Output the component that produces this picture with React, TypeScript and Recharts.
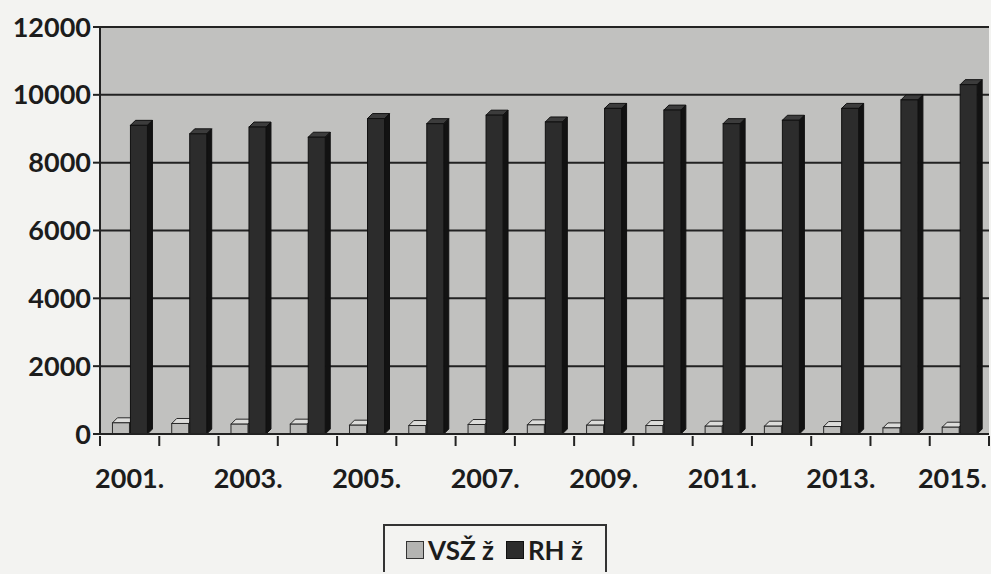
import { BarChart, Bar, XAxis, YAxis, CartesianGrid, Legend } from 'recharts';

const years = ['2001.', '2002.', '2003.', '2004.', '2005.', '2006.', '2007.', '2008.', '2009.', '2010.', '2011.', '2012.', '2013.', '2014.', '2015.'];
const vszValues = [330, 310, 290, 290, 260, 250, 280, 270, 260, 250, 230, 230, 220, 180, 200];
const rhValues = [9100, 8850, 9050, 8750, 9300, 9150, 9400, 9200, 9600, 9550, 9150, 9250, 9600, 9850, 10300];
const yTicks = [0, 2000, 4000, 6000, 8000, 10000, 12000];

const data = years.map((year, i) => ({ year, vsz: vszValues[i], rh: rhValues[i] }));

const FONT = 'Lato, "Open Sans", sans-serif';
const CHART_W = 991;
const CHART_H = 574;
const Y_AXIS_W = 100;
const MARGIN_RIGHT = 2;
const BAND = (CHART_W - Y_AXIS_W - MARGIN_RIGHT) / years.length;
const DEPTH = 5;

const make3DBar = (front: string, top: string, side: string, edge: string) => (props: any) => {
    const { x, y, width, height } = props;
    if (!height || height <= 0) return null;
    const d = DEPTH;
    return (
        <g>
            <polygon
                points={`${x},${y} ${x + d},${y - d} ${x + width + d},${y - d} ${x + width},${y}`}
                fill={top}
                stroke={edge}
                strokeWidth={1}
            />
            <polygon
                points={`${x + width},${y} ${x + width + d},${y - d} ${x + width + d},${y + height - d} ${x + width},${y + height}`}
                fill={side}
                stroke={edge}
                strokeWidth={1}
            />
            <rect x={x} y={y} width={width} height={height} fill={front} stroke={edge} strokeWidth={1} />
        </g>
    );
};

const LightBar = make3DBar('#bcbcba', '#dcdcda', '#9a9a98', '#2a2a2a');
const DarkBar = make3DBar('#2c2c2c', '#3c3c3c', '#121212', '#111');

const XTick = (props: any) => {
    const { x, y, payload, index } = props;
    const left = x - BAND / 2;
    const isLast = index === years.length - 1;
    return (
        <g>
            <line x1={left} y1={y - 6} x2={left} y2={y + 4} stroke="#222" strokeWidth={2} />
            {isLast && (
                <line x1={x + BAND / 2} y1={y - 6} x2={x + BAND / 2} y2={y + 4} stroke="#222" strokeWidth={2} />
            )}
            {index % 2 === 0 && (
                <text
                    x={isLast ? CHART_W - 4 : x}
                    y={y + 46}
                    textAnchor={isLast ? 'end' : 'middle'}
                    fontFamily={FONT}
                    fontWeight={700}
                    fontSize={27}
                    fill="#1c1c1c"
                >
                    {payload.value}
                </text>
            )}
        </g>
    );
};

const LegendBox = () => (
    <div style={{ display: 'flex', justifyContent: 'center', height: 50 }}>
        <div
            style={{
                border: '2px solid #333',
                borderBottom: 'none',
                width: 224,
                height: 48,
                display: 'flex',
                alignItems: 'flex-start',
                justifyContent: 'center',
                gap: 12,
                paddingTop: 8,
                boxSizing: 'border-box',
                fontFamily: FONT,
                fontWeight: 700,
                fontSize: 26,
                color: '#1c1c1c',
            }}
        >
            <span style={{ display: 'flex', alignItems: 'center', gap: 4 }}>
                <span style={{ width: 16, height: 16, background: '#b4b4b2', border: '1.5px solid #333' }} />
                VSŽ ž
            </span>
            <span style={{ display: 'flex', alignItems: 'center', gap: 4 }}>
                <span style={{ width: 16, height: 16, background: '#2c2c2c', border: '1.5px solid #111' }} />
                RH ž
            </span>
        </div>
    </div>
);

export default function App() {
    return (
        <div style={{ position: 'absolute', top: 0, left: 0, width: CHART_W, height: CHART_H, background: '#f3f3f1' }}>
            <BarChart
                width={CHART_W}
                height={CHART_H}
                data={data}
                margin={{ top: 27, right: MARGIN_RIGHT, bottom: 0, left: 0 }}
                barCategoryGap="21%"
                barGap={1}
            >
                <CartesianGrid vertical={false} stroke="#222" strokeWidth={2} fill="#c1c1bf" fillOpacity={1} />
                <XAxis
                    dataKey="year"
                    interval={0}
                    height={90}
                    tickLine={false}
                    axisLine={{ stroke: '#222', strokeWidth: 2 }}
                    tick={<XTick />}
                />
                <YAxis
                    width={Y_AXIS_W}
                    domain={[0, 12000]}
                    ticks={yTicks}
                    interval={0}
                    tickSize={7}
                    tickLine={{ stroke: '#222', strokeWidth: 2 }}
                    axisLine={{ stroke: '#222', strokeWidth: 2 }}
                    tick={{ fontFamily: FONT, fontWeight: 700, fontSize: 27, fill: '#1c1c1c' }}
                />
                <Legend verticalAlign="bottom" content={<LegendBox />} />
                <Bar dataKey="vsz" name="VSŽ ž" shape={LightBar} isAnimationActive={false} />
                <Bar dataKey="rh" name="RH ž" shape={DarkBar} isAnimationActive={false} />
            </BarChart>
        </div>
    );
}
